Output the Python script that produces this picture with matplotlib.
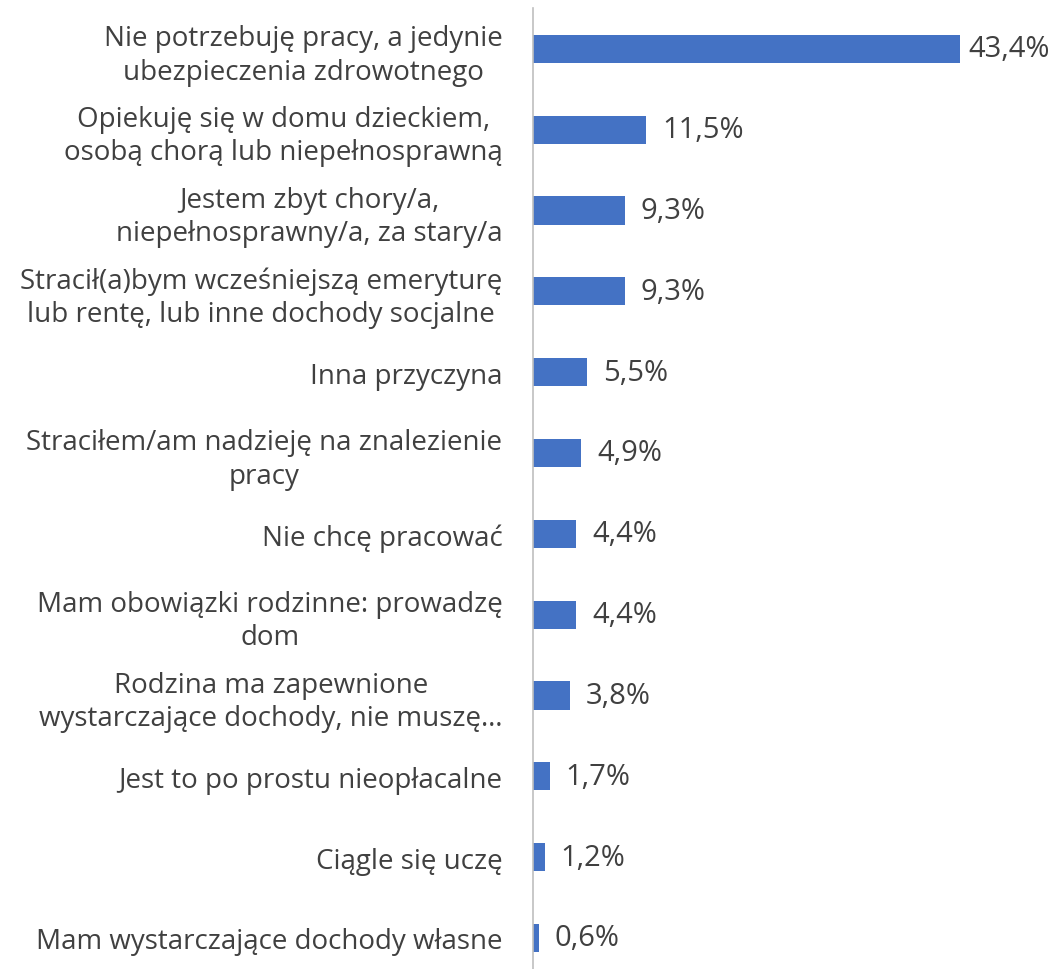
import matplotlib.pyplot as plt

# powody bierności zawodowej
kategorie = [
    "Nie potrzebuję pracy, a jedynie\nubezpieczenia zdrowotnego",
    "Opiekuję się w domu dzieckiem,\nosobą chorą lub niepełnosprawną",
    "Jestem zbyt chory/a,\nniepełnosprawny/a, za stary/a",
    "Stracił(a)bym wcześniejszą emeryturę\nlub rentę, lub inne dochody socjalne",
    "Inna przyczyna",
    "Straciłem/am nadzieję na znalezienie\npracy",
    "Nie chcę pracować",
    "Mam obowiązki rodzinne: prowadzę\ndom",
    "Rodzina ma zapewnione\nwystarczające dochody, nie muszę…",
    "Jest to po prostu nieopłacalne",
    "Ciągle się uczę",
    "Mam wystarczające dochody własne",
]
wartosci = [43.4, 11.5, 9.3, 9.3, 5.5, 4.9, 4.4, 4.4, 3.8, 1.7, 1.2, 0.6]

plt.rcParams['font.family'] = ['Open Sans', 'DejaVu Sans']
kolor_tekstu = '#404040'

fig = plt.figure(figsize=(10.5, 9.7), dpi=100)
ax = fig.add_axes([533 / 1050, -9.4 / 970, 492 / 1050, 970 / 970])

y = list(range(len(kategorie)))
ax.barh(y, wartosci, height=0.35, color='#4472C4')
ax.set_ylim(len(kategorie) - 0.5, -0.5)
ax.set_xlim(0, 50)

for yi, v in zip(y, wartosci):
    # etykieta najdluzszego slupka dosunieta, zeby zmiescila sie w obrazku
    x_txt = min(v + 1.6, 44.2)
    ax.text(x_txt, yi, f"{v:.1f}%".replace('.', ','), va='center', ha='left',
            fontsize=21, color=kolor_tekstu)

ax.set_yticks(y)
ax.set_yticklabels(kategorie, fontsize=20, color=kolor_tekstu, linespacing=1.25)
for t in ax.get_yticklabels():
    t.set_multialignment('center')
ax.tick_params(axis='y', length=0, pad=22)
ax.set_xticks([])

for s in ['top', 'right', 'bottom']:
    ax.spines[s].set_visible(False)
ax.spines['left'].set_color('#bfbfbf')
ax.spines['left'].set_linewidth(1.2)

fig.savefig('out.png', dpi=100)
